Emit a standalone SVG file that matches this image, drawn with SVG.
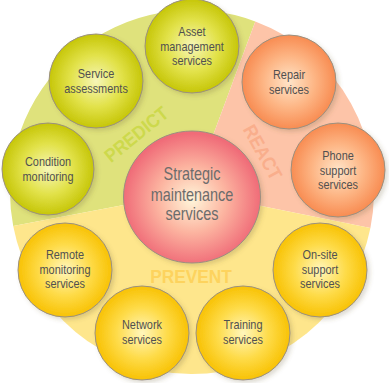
<svg xmlns="http://www.w3.org/2000/svg" width="389" height="383" viewBox="0 0 389 383">
<defs>
<radialGradient id="gPredict" cx="50%" cy="50%" r="50%"><stop offset="0%" stop-color="#f6f6b8"/><stop offset="55%" stop-color="#e2e24a"/><stop offset="100%" stop-color="#c6c608"/></radialGradient>
<radialGradient id="gReact" cx="50%" cy="50%" r="50%"><stop offset="0%" stop-color="#ffe4c8"/><stop offset="55%" stop-color="#fdb584"/><stop offset="100%" stop-color="#f88c52"/></radialGradient>
<radialGradient id="gPrevent" cx="50%" cy="50%" r="50%"><stop offset="0%" stop-color="#fff6bc"/><stop offset="55%" stop-color="#fedb48"/><stop offset="100%" stop-color="#f8c204"/></radialGradient>
<radialGradient id="gCenter" cx="50%" cy="52%" r="50%"><stop offset="0%" stop-color="#fff6da"/><stop offset="50%" stop-color="#fcb4a0"/><stop offset="100%" stop-color="#f06c78"/></radialGradient>
<filter id="sh" x="-20%" y="-20%" width="150%" height="150%"><feDropShadow dx="2.5" dy="2.5" stdDeviation="2" flood-color="#6a5a30" flood-opacity="0.22"/></filter>
</defs>
<style>
.node circle, .node ellipse { stroke: #9a9080; stroke-width: 1; filter: url(#sh); }
.predict circle { fill: url(#gPredict); }
.react circle { fill: url(#gReact); }
.prevent circle { fill: url(#gPrevent); }
.t { font-family: "Liberation Sans", Arial, sans-serif; font-size: 13px; fill: #505050; text-anchor: middle; }
.tc { font-family: "Liberation Sans", Arial, sans-serif; font-size: 18.5px; fill: #6c6c6c; text-anchor: middle; }
.lbl { font-family: "Liberation Sans", Arial, sans-serif; font-size: 19px; font-weight: bold; text-anchor: middle; }
</style>
<g id="background">
<path d="M192 192 L13.2 226.1 A182 182 0 0 1 255.3 21.4 Z" fill="#dfe27c"/>
<path d="M192 192 L255.3 21.4 A182 182 0 0 1 370.4 228 Z" fill="#fdc4a8"/>
<path d="M192 192 L370.4 228 A182 182 0 0 1 13.2 226.1 Z" fill="#fee68c"/>
<text class="lbl" fill="#cdd94c" transform="translate(136 134) rotate(-39) scale(0.91 1)" y="7">PREDICT</text>
<text class="lbl" fill="#f9ae8c" transform="translate(263 152) rotate(61) scale(0.91 1)" y="7">REACT</text>
<text class="lbl" fill="#fdd35e" transform="translate(191 276) scale(0.91 1)" y="7">PREVENT</text>
</g>
<g id="connectors"></g>
<g id="center" class="node">
<ellipse cx="192" cy="197" rx="68.5" ry="66" fill="url(#gCenter)"/>
<text class="tc" transform="translate(192 197) scale(0.78 1)"><tspan x="0" y="-17.5">Strategic</tspan><tspan x="0" y="3.5">maintenance</tspan><tspan x="0" y="23.5">services</tspan></text>
</g>
<g id="asset" class="node predict">
<circle cx="192" cy="46" r="47"/>
<text class="t" transform="translate(192 46) scale(0.84 1)"><tspan x="0" y="-10">Asset</tspan><tspan x="0" y="4.5">management</tspan><tspan x="0" y="19">services</tspan></text>
</g>
<g id="service" class="node predict">
<circle cx="96" cy="81" r="47"/>
<text class="t" transform="translate(96 81) scale(0.84 1)"><tspan x="0" y="-3">Service</tspan><tspan x="0" y="11.5">assessments</tspan></text>
</g>
<g id="condition" class="node predict">
<circle cx="48" cy="169" r="46"/>
<text class="t" transform="translate(48 169) scale(0.84 1)"><tspan x="0" y="-3">Condition</tspan><tspan x="0" y="11.5">monitoring</tspan></text>
</g>
<g id="repair" class="node react">
<circle cx="289" cy="82" r="47"/>
<text class="t" transform="translate(289 82) scale(0.84 1)"><tspan x="0" y="-3">Repair</tspan><tspan x="0" y="11.5">services</tspan></text>
</g>
<g id="phone" class="node react">
<circle cx="338" cy="170" r="47"/>
<text class="t" transform="translate(338 170) scale(0.84 1)"><tspan x="0" y="-10">Phone</tspan><tspan x="0" y="4.5">support</tspan><tspan x="0" y="19">services</tspan></text>
</g>
<g id="remote" class="node prevent">
<circle cx="65" cy="270" r="47"/>
<text class="t" transform="translate(65 269) scale(0.84 1)"><tspan x="0" y="-10">Remote</tspan><tspan x="0" y="4.5">monitoring</tspan><tspan x="0" y="19">services</tspan></text>
</g>
<g id="network" class="node prevent">
<circle cx="142" cy="333" r="47"/>
<text class="t" transform="translate(142 332) scale(0.84 1)"><tspan x="0" y="-3">Network</tspan><tspan x="0" y="11.5">services</tspan></text>
</g>
<g id="training" class="node prevent">
<circle cx="243" cy="333" r="47"/>
<text class="t" transform="translate(243 332) scale(0.84 1)"><tspan x="0" y="-3">Training</tspan><tspan x="0" y="11.5">services</tspan></text>
</g>
<g id="onsite" class="node prevent">
<circle cx="320" cy="270" r="47"/>
<text class="t" transform="translate(320 269) scale(0.84 1)"><tspan x="0" y="-10">On-site</tspan><tspan x="0" y="4.5">support</tspan><tspan x="0" y="19">services</tspan></text>
</g>
</svg>
